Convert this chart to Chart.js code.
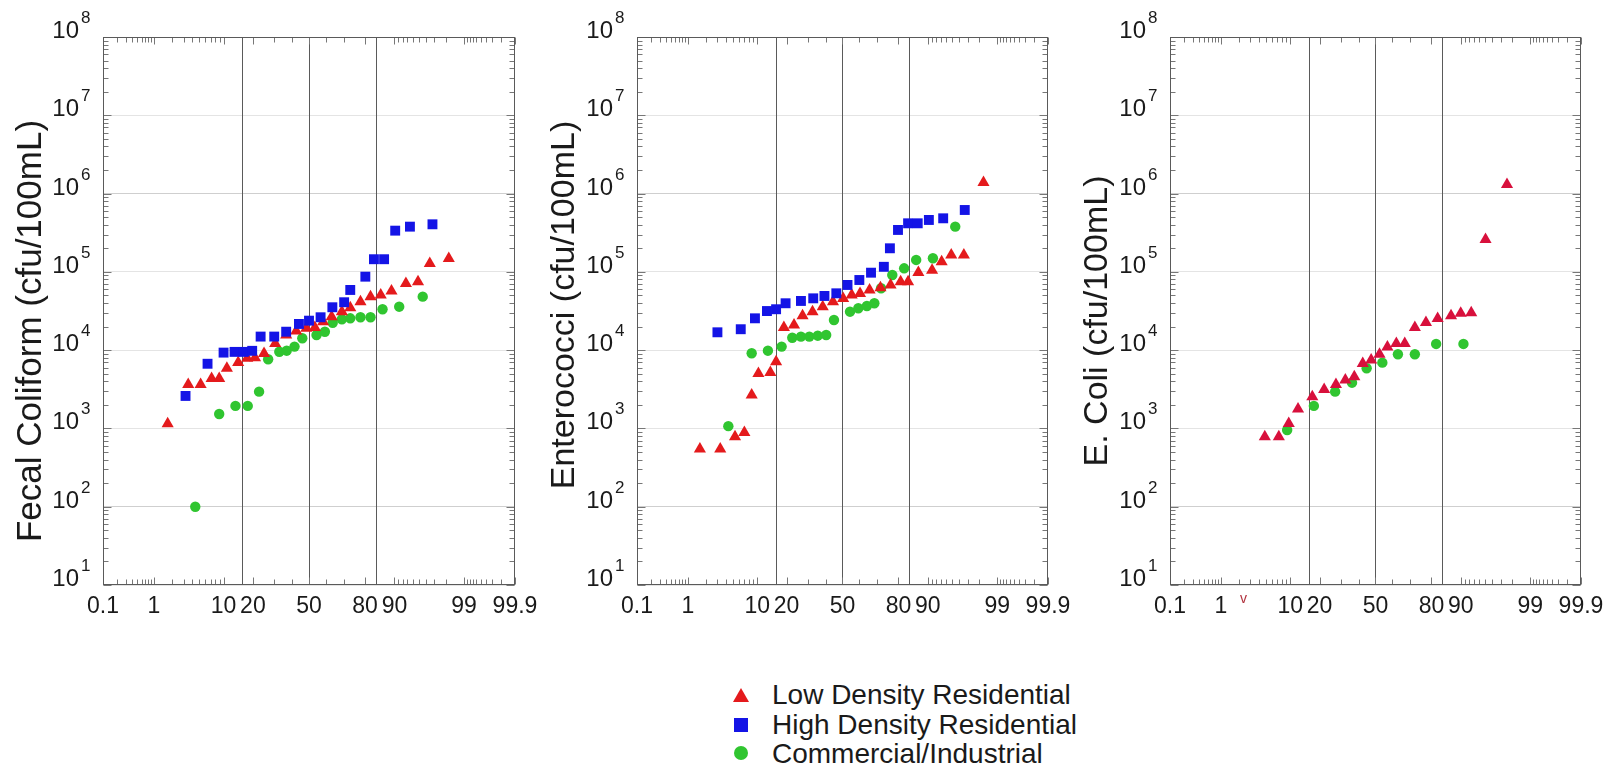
<!DOCTYPE html>
<html>
<head>
<meta charset="utf-8">
<title>Bacteria probability plots</title>
<script src="https://cdn.jsdelivr.net/npm/chart.js@4/dist/chart.umd.min.js"></script>
<style>
  html, body { margin: 0; padding: 0; background: #fff; }
  body { width: 1610px; height: 776px; position: relative; overflow: hidden;
         font-family: "Liberation Sans", Arial, sans-serif; color: #1a1a1a; }
  canvas { position: absolute; top: 0; }
  .row { position: absolute; left: 772px; font-size: 28px; line-height: 28px; white-space: nowrap; }
  .mk { position: absolute; }
  .tri { left: 733px; top: 688px; width: 0; height: 0; border-left: 8px solid transparent;
         border-right: 8px solid transparent; border-bottom: 14px solid #e41a1c; }
  .sq { left: 734px; top: 718px; width: 14px; height: 14px; background: #1414e6; }
  .dot { left: 734px; top: 746px; width: 14px; height: 14px; border-radius: 50%; background: #30c530; }
  #mark { position: absolute; left: 1240px; top: 590px; font-size: 14px; color: #b0303c; }
</style>
</head>
<body>
<canvas id="fecalChart" width="547" height="650" style="left:0px"></canvas>
<canvas id="enteroChart" width="550" height="650" style="left:530px"></canvas>
<canvas id="ecoliChart" width="548" height="650" style="left:1065px"></canvas>

<div class="mk tri"></div>
<div class="mk sq"></div>
<div class="mk dot"></div>
<div class="row" style="top:681px">Low Density Residential</div>
<div class="row" style="top:711px">High Density Residential</div>
<div class="row" style="top:740px">Commercial/Industrial</div>
<span id="mark">v</span>

<script>
// axis ticks (probability in %, concentration in cfu/100mL)
const probTicks = [0.1, 1, 10, 20, 50, 80, 90, 99, 99.9];
const probMinorTicks = [0.2, 0.3, 0.4, 0.5, 0.6, 0.7, 0.8, 0.9, 2, 3, 4, 5, 6, 7, 8, 9,
    30, 40, 60, 70, 91, 92, 93, 94, 95, 96, 97, 98, 99.1, 99.2, 99.3, 99.4, 99.5, 99.6, 99.7, 99.8];
const sigmaLines = [15.87, 50, 84.13];
const decadeTicks = [1e1, 1e2, 1e3, 1e4, 1e5, 1e6, 1e7, 1e8];

const seriesNames = ['Low Density Residential', 'High Density Residential', 'Commercial/Industrial'];

// Fecal Coliform
const fecalLowPct = [1.7, 3.5, 5.2, 7.2, 8.9, 10.9, 14.4, 17.7, 20.9, 25.0, 30.6, 36.6, 42.4, 48.4, 53.5,
    58.4, 63.3, 68.9, 73.2, 78.0, 82.2, 85.9, 89.2, 92.7, 94.9, 96.5, 98.2];
const fecalLowCfu = [1150, 3650, 3650, 4350, 4350, 5850, 6950, 7850, 8000, 9050, 12200, 15600, 17600, 19000, 19400,
    23100, 26700, 31000, 34800, 41500, 48200, 50500, 56900, 71200, 74800, 128000, 148000];
const fecalHighPct = [3.2, 6.4, 10.0, 13.2, 16.4, 19.7, 23.4, 30.1, 36.6, 44.0, 50.0, 56.9, 63.7, 70.1, 73.2,
    80.1, 83.5, 87.0, 90.2, 93.5, 96.8];
const fecalHighCfu = [2600, 6700, 9300, 9500, 9500, 9800, 14900, 14900, 17200, 21600, 23800, 26300, 35300, 40900, 58700,
    86800, 145000, 145000, 336000, 378000, 405000];
const fecalComPct = [4.4, 8.9, 13.5, 17.9, 22.7, 27.0, 32.8, 36.9, 41.4, 46.0, 54.5, 59.4, 63.9, 68.9, 73.2,
    78.0, 82.2, 86.5, 91.2, 95.6];
const fecalComCfu = [100, 1530, 1940, 1940, 2950, 7640, 9550, 9840, 11100, 14200, 15600, 17200, 22400, 24800, 25500,
    26300, 26300, 33300, 35900, 48200];

// Enterococci
const enteroLowPct = [1.6, 3.3, 5.3, 7.0, 8.6, 10.3, 13.9, 15.9, 18.9, 23.3, 27.4, 32.6, 38.3, 44.3, 50.4,
    55.5, 60.4, 65.8, 71.6, 76.5, 80.9, 83.8, 87.3, 91.1, 93.2, 94.9, 96.6, 98.3];
const enteroLowCfu = [545, 545, 783, 889, 2670, 5040, 5200, 7110, 19400, 20900, 27600, 31000, 35900, 41500, 45800,
    50500, 53000, 58600, 62700, 67800, 74800, 74800, 97900, 105000, 135000, 164000, 164000, 1380000];
const enteroHighPct = [3.0, 6.3, 9.4, 12.8, 15.9, 19.6, 26.6, 33.0, 39.3, 46.3, 53.0, 60.0, 66.6, 73.3, 76.2,
    79.8, 83.8, 87.1, 90.3, 93.5, 96.7];
const enteroHighCfu = [16900, 18500, 25500, 31600, 33300, 39700, 42500, 45900, 49200, 53200, 68000, 78700, 97600, 116000, 200000,
    343000, 417000, 417000, 460000, 483000, 617000];
const enteroComPct = [4.3, 8.6, 13.1, 18.0, 22.5, 26.6, 30.9, 35.5, 40.3, 44.9, 54.5, 59.4, 64.3, 68.4, 71.9,
    77.3, 82.3, 86.6, 91.3, 95.5];
const enteroComCfu = [1070, 9120, 9840, 11100, 14400, 14900, 14900, 15300, 15600, 24300, 31000, 34300, 36600, 39700, 61700,
    91200, 111000, 142000, 149000, 378000];

// E. Coli
const ecoliLowPct = [4.8, 7.3, 9.6, 12.2, 17.1, 22.0, 27.6, 32.5, 37.5, 42.4, 47.4, 52.4, 57.1, 62.3, 67.0,
    72.3, 77.6, 82.5, 87.2, 90.0, 92.5, 95.1, 97.6];
const ecoliLowCfu = [783, 783, 1160, 1770, 2540, 3150, 3650, 4150, 4580, 6770, 7480, 8830, 11000, 12200, 12200,
    19400, 22600, 25400, 27600, 29500, 30000, 259000, 1310000];
const ecoliComPct = [9.2, 17.7, 27.2, 36.2, 44.7, 54.1, 63.2, 72.3, 81.9, 90.7];
const ecoliComCfu = [955, 1940, 2950, 3840, 5870, 6920, 8850, 8850, 12000, 12000];

const COLORS = { LOW: '#e41a1c', LOW_ALT: '#d8103c', HIGH: '#1414e6', COM: '#30c530' };
const FONT = '"Liberation Sans", Arial, sans-serif';

// inverse normal CDF (Acklam)
function probit(p) {
    const a = [-3.969683028665376e+01, 2.209460984245205e+02, -2.759285104469687e+02, 1.383577518672690e+02, -3.066479806614716e+01, 2.506628277459239e+00];
    const b = [-5.447609879822406e+01, 1.615858368580409e+02, -1.556989798598866e+02, 6.680131188771972e+01, -1.328068155288572e+01];
    const c = [-7.784894002430293e-03, -3.223964580411365e-01, -2.400758277161838e+00, -2.549732539343734e+00, 4.374664141464968e+00, 2.938163982698783e+00];
    const d = [7.784695709041462e-03, 3.224671290700398e-01, 2.445134137142996e+00, 3.754408661907416e+00];
    const pl = 0.02425;
    if (p < pl) {
        const q = Math.sqrt(-2 * Math.log(p));
        return (((((c[0]*q+c[1])*q+c[2])*q+c[3])*q+c[4])*q+c[5]) / ((((d[0]*q+d[1])*q+d[2])*q+d[3])*q+1);
    }
    if (p > 1 - pl) {
        const q = Math.sqrt(-2 * Math.log(1 - p));
        return -(((((c[0]*q+c[1])*q+c[2])*q+c[3])*q+c[4])*q+c[5]) / ((((d[0]*q+d[1])*q+d[2])*q+d[3])*q+1);
    }
    const q = p - 0.5, r = q * q;
    return (((((a[0]*r+a[1])*r+a[2])*r+a[3])*r+a[4])*r+a[5])*q / (((((b[0]*r+b[1])*r+b[2])*r+b[3])*r+b[4])*r+1);
}

function normCdf(z) {
    const t = 1 / (1 + 0.3275911 * Math.abs(z) / Math.SQRT2);
    const y = 1 - (((((1.061405429*t - 1.453152027)*t) + 1.421413741)*t - 0.284496736)*t + 0.254829592)*t * Math.exp(-z*z/2);
    return z >= 0 ? (1 + y) / 2 : (1 - y) / 2;
}

// normal probability axis, values in percent
class ProbabilityScale extends Chart.LinearScale {
    static id = 'probability';
    static defaults = {};
    determineDataLimits() {
        this.min = this.options.min;
        this.max = this.options.max;
    }
    buildTicks() {
        return probTicks.map(v => ({ value: v }));
    }
    configure() {
        super.configure();
        this._zMin = probit(this.min / 100);
        this._zMax = probit(this.max / 100);
    }
    getPixelForValue(value) {
        if (value === null || isNaN(value)) return NaN;
        return this.getPixelForDecimal((probit(value / 100) - this._zMin) / (this._zMax - this._zMin));
    }
    getValueForPixel(pixel) {
        return 100 * normCdf(this._zMin + this.getDecimalForPixel(pixel) * (this._zMax - this._zMin));
    }
}
Chart.register(ProbabilityScale);

// frame, sigma lines, edge ticks, y labels with exponents, y title
const frameDecor = {
    id: 'frameDecor',
    beforeDatasetsDraw(chart) {
        const { ctx, chartArea: a, scales: { x, y } } = chart;
        const L = Math.round(a.left) + 0.5, R = Math.round(a.right) - 0.5;
        const T = Math.round(a.top) + 0.5, B = Math.round(a.bottom) - 0.5;
        ctx.save();
        ctx.lineWidth = 1;

        ctx.strokeStyle = '#5a5a5a';
        ctx.beginPath();
        sigmaLines.forEach(p => {
            const px = Math.round(x.getPixelForValue(p)) + 0.5;
            ctx.moveTo(px, T); ctx.lineTo(px, B);
        });
        ctx.stroke();

        ctx.strokeStyle = '#777';
        ctx.beginPath();
        const xTick = (p, len) => {
            const px = Math.round(x.getPixelForValue(p)) + 0.5;
            ctx.moveTo(px, B); ctx.lineTo(px, B - len);
            ctx.moveTo(px, T); ctx.lineTo(px, T + len);
        };
        const yTick = (v, len) => {
            const py = Math.round(y.getPixelForValue(v)) + 0.5;
            ctx.moveTo(L, py); ctx.lineTo(L + len, py);
            ctx.moveTo(R, py); ctx.lineTo(R - len, py);
        };
        probMinorTicks.forEach(p => xTick(p, 5));
        probTicks.forEach(p => xTick(p, 7));
        decadeTicks.forEach(v => {
            yTick(v, 8);
            if (v < 1e8) {
                for (let m = 2; m <= 9; m++) yTick(v * m, 5);
            }
        });
        ctx.stroke();

        ctx.strokeStyle = '#5a5a5a';
        ctx.strokeRect(L, T, R - L, B - T);
        ctx.restore();
    },
    afterDraw(chart, args, opts) {
        const { ctx, chartArea: a, scales: { y } } = chart;
        ctx.save();
        ctx.fillStyle = '#1a1a1a';
        decadeTicks.forEach(v => {
            const py = y.getPixelForValue(v);
            ctx.textBaseline = 'alphabetic';
            ctx.font = '24px ' + FONT;
            ctx.textAlign = 'right';
            ctx.fillText('10', a.left - 24, py + 1);
            ctx.font = '17px ' + FONT;
            ctx.textAlign = 'left';
            ctx.fillText(String(Math.round(Math.log10(v))), a.left - 22, py - 14);
        });
        ctx.translate(a.left - 72, (a.top + a.bottom) / 2 + opts.titleShift);
        ctx.rotate(-Math.PI / 2);
        ctx.font = opts.titleSize + 'px ' + FONT;
        ctx.textAlign = 'center';
        ctx.textBaseline = 'middle';
        ctx.fillText(opts.title, 0, 0);
        ctx.restore();
    }
};

function createDataset(label, pct, cfu, color, style, radius, order) {
    return {
        label: label,
        data: pct.map((p, i) => ({ x: p, y: cfu[i] })),
        pointStyle: style,
        pointRadius: radius,
        pointBackgroundColor: color,
        pointBorderWidth: 0,
        order: order
    };
}

function makePanel(canvasId, title, titleSize, titleShift, datasets, padding) {
    const ctx = document.getElementById(canvasId).getContext('2d');
    return new Chart(ctx, {
        type: 'scatter',
        data: { datasets: datasets },
        plugins: [frameDecor],
        options: {
            responsive: false,
            animation: false,
            events: [],
            layout: { padding: padding },
            plugins: {
                legend: { display: false },
                tooltip: { enabled: false },
                frameDecor: { title: title, titleSize: titleSize, titleShift: titleShift }
            },
            scales: {
                x: {
                    type: 'probability',
                    min: 0.1,
                    max: 99.9,
                    grid: { display: false, drawTicks: false },
                    border: { display: false },
                    ticks: {
                        autoSkip: false, maxRotation: 0, minRotation: 0, padding: 8,
                        color: '#1a1a1a', font: { family: FONT, size: 23 },
                        callback: v => String(v)
                    }
                },
                y: {
                    type: 'logarithmic',
                    min: 10,
                    max: 1e8,
                    afterBuildTicks: scale => {
                        scale.ticks = decadeTicks.map(v => ({ value: v, major: true }));
                    },
                    grid: {
                        color: c => (c.tick && (c.tick.value === 1e6 || c.tick.value === 1e2)) ? '#cfcfcf' : '#e4e4e4',
                        drawTicks: false
                    },
                    border: { display: false },
                    ticks: { display: false }
                }
            }
        }
    });
}

const bottomPad = 650 - 585 - (23 * 1.2 + 16);

makePanel('fecalChart', 'Fecal Coliform (cfu/100mL)', 35, 20, [
    createDataset(seriesNames[1], fecalHighPct, fecalHighCfu, COLORS.HIGH, 'rect', 7, 0),
    createDataset(seriesNames[0], fecalLowPct, fecalLowCfu, COLORS.LOW, 'triangle', 7, 1),
    createDataset(seriesNames[2], fecalComPct, fecalComCfu, COLORS.COM, 'circle', 5.2, 2)
], { left: 103, right: 32, top: 37, bottom: bottomPad });

makePanel('enteroChart', 'Enterococci (cfu/100mL)', 34, -6, [
    createDataset(seriesNames[1], enteroHighPct, enteroHighCfu, COLORS.HIGH, 'rect', 7, 0),
    createDataset(seriesNames[0], enteroLowPct, enteroLowCfu, COLORS.LOW, 'triangle', 7, 1),
    createDataset(seriesNames[2], enteroComPct, enteroComCfu, COLORS.COM, 'circle', 5.2, 2)
], { left: 107, right: 32, top: 37, bottom: bottomPad });

makePanel('ecoliChart', 'E. Coli (cfu/100mL)', 34, 10, [
    createDataset(seriesNames[0], ecoliLowPct, ecoliLowCfu, COLORS.LOW_ALT, 'triangle', 7, 1),
    createDataset(seriesNames[2], ecoliComPct, ecoliComCfu, COLORS.COM, 'circle', 5.2, 2)
], { left: 105, right: 32, top: 37, bottom: bottomPad });
</script>
</body>
</html>
